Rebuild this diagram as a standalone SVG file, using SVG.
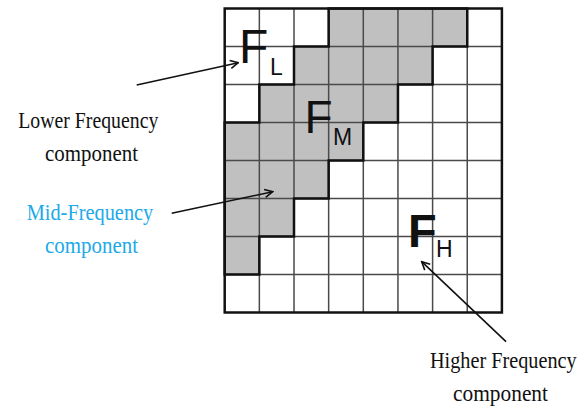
<svg xmlns="http://www.w3.org/2000/svg" width="587" height="413" viewBox="0 0 587 413">
<style>
.grid{stroke:#4a4a4a;stroke-width:1.5;fill:none}
.border{stroke:#111;stroke-width:2.5;fill:none}
.stair{stroke:#111;stroke-width:2.5;fill:none;stroke-linejoin:miter}
.sym{font-family:"Liberation Sans",Arial,sans-serif;fill:#111}
.lbl{font-family:"Liberation Serif","Times New Roman",serif;font-size:23px;fill:#111}
.mid{fill:#21a9e9}
.conn{stroke:#111;stroke-width:1.6;fill:none}
</style>
<defs>
<marker id="ah" viewBox="0 0 10 10" refX="9" refY="5" markerWidth="10" markerHeight="10" markerUnits="userSpaceOnUse" orient="auto">
<path d="M1,1 L9,5 L1,9" fill="none" stroke="#111" stroke-width="1.6"/>
</marker>
</defs>
<rect width="587" height="413" fill="#fff"/>
<g id="matrix">
<polygon fill="#c0c0c0" points="328.65,8.5 467.25,8.5 467.25,46.5 432.6,46.5 432.6,84.5 397.95,84.5 397.95,122.5 363.3,122.5 363.3,160.5 328.65,160.5 328.65,198.5 294,198.5 294,236.5 259.35,236.5 259.35,274.5 224.7,274.5 224.7,122.5 259.35,122.5 259.35,84.5 294,84.5 294,46.5 328.65,46.5"/>
<path class="grid" d="M259.35,8.5V312.5M294,8.5V312.5M328.65,8.5V312.5M363.3,8.5V312.5M397.95,8.5V312.5M432.6,8.5V312.5M467.25,8.5V312.5M224.7,46.5H501.9M224.7,84.5H501.9M224.7,122.5H501.9M224.7,160.5H501.9M224.7,198.5H501.9M224.7,236.5H501.9M224.7,274.5H501.9"/>
<polygon class="stair" points="328.65,8.5 467.25,8.5 467.25,46.5 432.6,46.5 432.6,84.5 397.95,84.5 397.95,122.5 363.3,122.5 363.3,160.5 328.65,160.5 328.65,198.5 294,198.5 294,236.5 259.35,236.5 259.35,274.5 224.7,274.5 224.7,122.5 259.35,122.5 259.35,84.5 294,84.5 294,46.5 328.65,46.5"/>
<rect class="border" x="224.7" y="8.5" width="277.2" height="304"/>
</g>
<g id="FL">
<text class="sym" x="239" y="63" font-size="48">F</text>
<text class="sym" x="270" y="75" font-size="23">L</text>
</g>
<g id="FM">
<text class="sym" x="304.5" y="133" font-size="46">F</text>
<text class="sym" x="333" y="145" font-size="23">M</text>
</g>
<g id="FH">
<text class="sym" x="408" y="247" font-size="47" font-weight="bold">F</text>
<text class="sym" x="436" y="257" font-size="23">H</text>
</g>
<g id="lower">
<text class="lbl" x="18.3" y="128" textLength="140" lengthAdjust="spacingAndGlyphs">Lower Frequency</text>
<text class="lbl" x="45" y="161" textLength="93" lengthAdjust="spacingAndGlyphs">component</text>
</g>
<g id="midlbl">
<text class="lbl mid" x="26.7" y="220" textLength="126.6" lengthAdjust="spacingAndGlyphs">Mid-Frequency</text>
<text class="lbl mid" x="45" y="253" textLength="93" lengthAdjust="spacingAndGlyphs">component</text>
</g>
<g id="higher">
<text class="lbl" transform="translate(430,368) scale(0.88,1)" x="0" y="0" textLength="166.7" lengthAdjust="spacingAndGlyphs">Higher Frequency</text>
<text class="lbl" x="453" y="401" textLength="95" lengthAdjust="spacingAndGlyphs">component</text>
</g>
<g id="connectors">
<line class="conn" x1="136.7" y1="85" x2="238.3" y2="62.7" marker-end="url(#ah)"/>
<line class="conn" x1="171.7" y1="213.3" x2="272.7" y2="191.7" marker-end="url(#ah)"/>
<line class="conn" x1="506" y1="341.7" x2="421.7" y2="261.7" marker-end="url(#ah)"/>
</g>
</svg>
